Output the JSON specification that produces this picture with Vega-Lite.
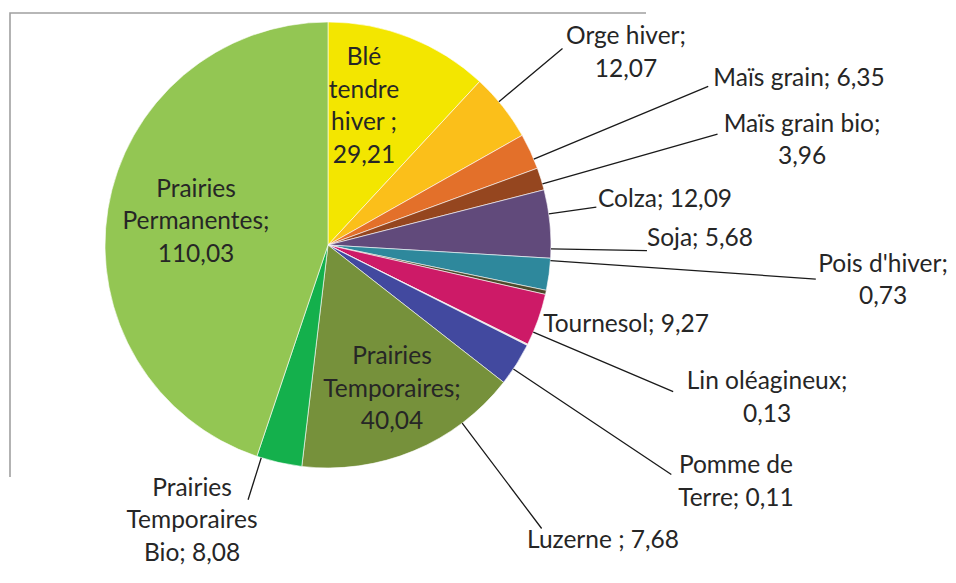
{
  "$schema": "https://vega.github.io/schema/vega-lite/v6.json",
  "width": 636,
  "height": 464,
  "autosize": {"type": "none"},
  "padding": {"left": 10, "top": 13, "right": 310, "bottom": 106},
  "background": "white",
  "view": {"stroke": "#A0A0A0", "strokeWidth": 1.6, "strokeDash": [636, 1100, 470]},
  "config": {
    "view": {"stroke": "#A0A0A0", "strokeWidth": 1.6, "strokeDash": [636, 1100, 470]},
    "text": {"font": "Lato", "fontSize": 24.5, "lineHeight": 32.5, "lineBreak": "\n", "align": "center", "baseline": "middle", "color": "#262626"}
  },
  "data": {
    "values": [
      {"cat": "Blé tendre hiver", "value": 29.21, "label": "Blé\ntendre\nhiver ;\n29,21", "idx": 1},
      {"cat": "Orge hiver", "value": 12.07, "label": "Orge hiver;\n12,07", "idx": 2},
      {"cat": "Maïs grain", "value": 6.35, "label": "Maïs grain; 6,35", "idx": 3},
      {"cat": "Maïs grain bio", "value": 3.96, "label": "Maïs grain bio;\n3,96", "idx": 4},
      {"cat": "Colza", "value": 12.09, "label": "Colza; 12,09", "idx": 5},
      {"cat": "Soja", "value": 5.68, "label": "Soja; 5,68", "idx": 6},
      {"cat": "Pois d'hiver", "value": 0.73, "label": "Pois d'hiver;\n0,73", "idx": 7},
      {"cat": "Tournesol", "value": 9.27, "label": "Tournesol; 9,27", "idx": 8},
      {"cat": "Lin oléagineux", "value": 0.13, "label": "Lin oléagineux;\n0,13", "idx": 9},
      {"cat": "Pomme de Terre", "value": 0.11, "label": "Pomme de\nTerre; 0,11", "idx": 10},
      {"cat": "Luzerne", "value": 7.68, "label": "Luzerne ; 7,68", "idx": 11},
      {"cat": "Prairies Temporaires", "value": 40.04, "label": "Prairies\nTemporaires;\n40,04", "idx": 12},
      {"cat": "Prairies Temporaires Bio", "value": 8.08, "label": "Prairies\nTemporaires\nBio; 8,08", "idx": 13},
      {"cat": "Prairies Permanentes", "value": 110.03, "label": "Prairies\nPermanentes;\n110,03", "idx": 14}
    ]
  },
  "encoding": {
    "theta": {"field": "value", "type": "quantitative", "stack": true, "scale": {"type": "linear", "zero": true, "nice": false}},
    "order": {"field": "idx", "type": "quantitative"}
  },
  "layer": [
    {
      "mark": {"type": "arc", "radius": 223, "stroke": "#ffffff", "strokeWidth": 0.6},
      "encoding": {
        "color": {
          "field": "cat", "type": "nominal", "legend": null,
          "scale": {
            "domain": ["Blé tendre hiver", "Orge hiver", "Maïs grain", "Maïs grain bio", "Colza", "Soja", "Pois d'hiver", "Tournesol", "Lin oléagineux", "Pomme de Terre", "Luzerne", "Prairies Temporaires", "Prairies Temporaires Bio", "Prairies Permanentes"],
            "range": ["#F3E600", "#FBBF1A", "#E3702A", "#95461F", "#614A7B", "#2E889C", "#4D4A2B", "#CD1A67", "#B7A38F", "#D8B9A0", "#42499F", "#76913B", "#14B04C", "#93C653"]
          }
        }
      }
    },
    {"mark": {"type": "arc", "radius": 306, "radius2": 223, "padAngle": 3.1416, "thetaOffset": -0.0291, "theta2Offset": -0.0291, "stroke": "#1a1a1a", "strokeWidth": 1.3, "fillOpacity": 0},
     "encoding": {"strokeOpacity": {"condition": {"test": "datum.idx === 2", "value": 1}, "value": 0}}},
    {"mark": {"type": "arc", "radius": 412, "radius2": 223, "padAngle": 3.1416, "thetaOffset": 0.0373, "theta2Offset": 0.0373, "stroke": "#1a1a1a", "strokeWidth": 1.3, "fillOpacity": 0},
     "encoding": {"strokeOpacity": {"condition": {"test": "datum.idx === 3", "value": 1}, "value": 0}}},
    {"mark": {"type": "arc", "radius": 405, "radius2": 223, "padAngle": 3.1416, "thetaOffset": 0.0234, "theta2Offset": 0.0234, "stroke": "#1a1a1a", "strokeWidth": 1.3, "fillOpacity": 0},
     "encoding": {"strokeOpacity": {"condition": {"test": "datum.idx === 4", "value": 1}, "value": 0}}},
    {"mark": {"type": "arc", "radius": 271, "radius2": 223, "padAngle": 3.1416, "thetaOffset": -0.045, "theta2Offset": -0.045, "stroke": "#1a1a1a", "strokeWidth": 1.3, "fillOpacity": 0},
     "encoding": {"strokeOpacity": {"condition": {"test": "datum.idx === 5", "value": 1}, "value": 0}}},
    {"mark": {"type": "arc", "radius": 319, "radius2": 223, "padAngle": 3.1416, "thetaOffset": -0.1147, "theta2Offset": -0.1147, "stroke": "#1a1a1a", "strokeWidth": 1.3, "fillOpacity": 0},
     "encoding": {"strokeOpacity": {"condition": {"test": "datum.idx === 6", "value": 1}, "value": 0}}},
    {"mark": {"type": "arc", "radius": 489, "radius2": 223, "padAngle": 3.1416, "thetaOffset": -0.1445, "theta2Offset": -0.1445, "stroke": "#1a1a1a", "strokeWidth": 1.3, "fillOpacity": 0},
     "encoding": {"strokeOpacity": {"condition": {"test": "datum.idx === 7", "value": 1}, "value": 0}}},
    {"mark": {"type": "arc", "radius": 375, "radius2": 223, "padAngle": 3.1416, "thetaOffset": -0.0611, "theta2Offset": -0.0611, "stroke": "#1a1a1a", "strokeWidth": 1.3, "fillOpacity": 0},
     "encoding": {"strokeOpacity": {"condition": {"test": "datum.idx === 9", "value": 1}, "value": 0}}},
    {"mark": {"type": "arc", "radius": 413, "radius2": 223, "padAngle": 3.1416, "thetaOffset": 0.1237, "theta2Offset": 0.1237, "stroke": "#1a1a1a", "strokeWidth": 1.3, "fillOpacity": 0},
     "encoding": {"strokeOpacity": {"condition": {"test": "datum.idx === 10", "value": 1}, "value": 0}}},
    {"mark": {"type": "arc", "radius": 355, "radius2": 223, "padAngle": 3.1416, "thetaOffset": 0.3597, "theta2Offset": 0.3597, "stroke": "#1a1a1a", "strokeWidth": 1.3, "fillOpacity": 0},
     "encoding": {"strokeOpacity": {"condition": {"test": "datum.idx === 11", "value": 1}, "value": 0}}},
    {"mark": {"type": "arc", "radius": 267, "radius2": 223, "padAngle": 3.1416, "thetaOffset": 0.0827, "theta2Offset": 0.0827, "stroke": "#1a1a1a", "strokeWidth": 1.3, "fillOpacity": 0},
     "encoding": {"strokeOpacity": {"condition": {"test": "datum.idx === 13", "value": 1}, "value": 0}}},
    {"mark": {"type": "text", "radius": 190.4, "thetaOffset": -0.1836},
     "encoding": {"text": {"condition": {"test": "datum.idx === 1", "field": "label", "type": "nominal"}, "value": ""}}},
    {"mark": {"type": "text", "radius": 363.4, "thetaOffset": 0.0592},
     "encoding": {"text": {"condition": {"test": "datum.idx === 2", "field": "label", "type": "nominal"}, "value": ""}}},
    {"mark": {"type": "text", "radius": 499.4, "thetaOffset": 0.0939},
     "encoding": {"text": {"condition": {"test": "datum.idx === 3", "field": "label", "type": "nominal"}, "value": ""}}},
    {"mark": {"type": "text", "radius": 489, "thetaOffset": 0.0527},
     "encoding": {"text": {"condition": {"test": "datum.idx === 4", "field": "label", "type": "nominal"}, "value": ""}}},
    {"mark": {"type": "text", "radius": 340, "thetaOffset": -0.0375},
     "encoding": {"text": {"condition": {"test": "datum.idx === 5", "field": "label", "type": "nominal"}, "value": ""}}},
    {"mark": {"type": "text", "radius": 372, "thetaOffset": -0.1482},
     "encoding": {"text": {"condition": {"test": "datum.idx === 6", "field": "label", "type": "nominal"}, "value": ""}}},
    {"mark": {"type": "text", "radius": 555.4, "thetaOffset": -0.1784},
     "encoding": {"text": {"condition": {"test": "datum.idx === 7", "field": "label", "type": "nominal"}, "value": ""}}},
    {"mark": {"type": "text", "radius": 308.6, "thetaOffset": -0.0799},
     "encoding": {"text": {"condition": {"test": "datum.idx === 8", "field": "label", "type": "nominal"}, "value": ""}}},
    {"mark": {"type": "text", "radius": 459.9, "thetaOffset": -0.16},
     "encoding": {"text": {"condition": {"test": "datum.idx === 9", "field": "label", "type": "nominal"}, "value": ""}}},
    {"mark": {"type": "text", "radius": 464, "thetaOffset": 0.0309},
     "encoding": {"text": {"condition": {"test": "datum.idx === 10", "field": "label", "type": "nominal"}, "value": ""}}},
    {"mark": {"type": "text", "radius": 404, "thetaOffset": 0.2567},
     "encoding": {"text": {"condition": {"test": "datum.idx === 11", "field": "label", "type": "nominal"}, "value": ""}}},
    {"mark": {"type": "text", "radius": 129, "thetaOffset": -0.1244},
     "encoding": {"text": {"condition": {"test": "datum.idx === 12", "field": "label", "type": "nominal"}, "value": ""}}},
    {"mark": {"type": "text", "radius": 279.3, "thetaOffset": 0.2871},
     "encoding": {"text": {"condition": {"test": "datum.idx === 13", "field": "label", "type": "nominal"}, "value": ""}}},
    {"mark": {"type": "text", "radius": 143, "thetaOffset": 0.2325},
     "encoding": {"text": {"condition": {"test": "datum.idx === 14", "field": "label", "type": "nominal"}, "value": ""}}}
  ]
}
